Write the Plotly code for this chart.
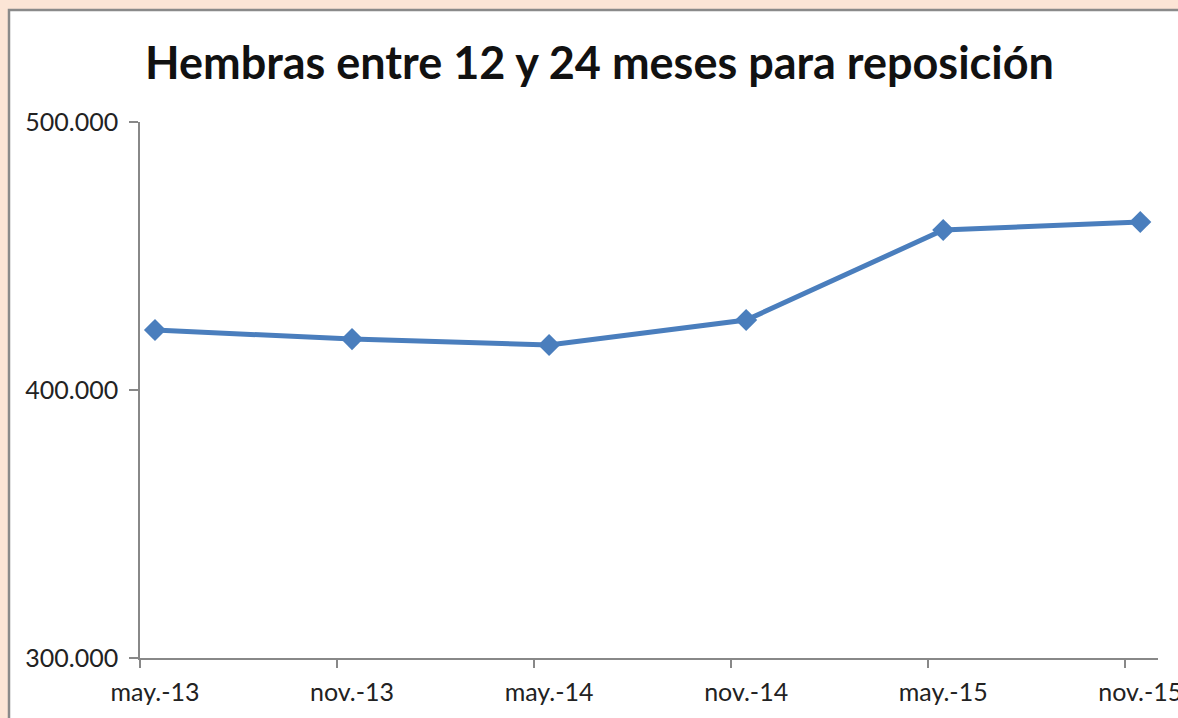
import plotly.graph_objects as go

categories = ["may.-13", "nov.-13", "may.-14", "nov.-14", "may.-15", "nov.-15"]
values = [422400, 419000, 416800, 426100, 459700, 462700]
y_ticks = [300000, 400000, 500000]
y_tick_labels = ["300.000", "400.000", "500.000"]
title_text = "Hembras entre 12 y 24 meses para reposición"

W, H = 1178, 718
L, R, T, B = 140, 20, 122, 60
pw, ph = W - L - R, H - T - B

idx = list(range(len(categories)))
offset = 0.076  # tick marks sit slightly left of the points
x_range = [-offset, 5.09]

fig = go.Figure()
fig.add_trace(go.Scatter(
    x=idx, y=values, mode="lines+markers",
    line=dict(color="#4A7EBD", width=5),
    marker=dict(symbol="diamond", size=17, color="#4A7EBD"),
    showlegend=False, hoverinfo="skip",
))
# invisible trace for the label axis
fig.add_trace(go.Scatter(x=idx, y=values, xaxis="x2", mode="lines",
                         line=dict(width=0), showlegend=False, hoverinfo="skip"))

fig.update_layout(
    width=W, height=H, autosize=False,
    margin=dict(l=L, r=R, t=T, b=B, autoexpand=False),
    paper_bgcolor="#FCE5D6",
    plot_bgcolor="rgba(0,0,0,0)",
    font=dict(family="Lato, Carlito, Calibri, sans-serif", color="#222222"),
    xaxis=dict(
        range=x_range, tickmode="array",
        tickvals=[i - offset for i in idx], ticktext=["" for _ in idx],
        ticks="outside", ticklen=8, tickcolor="#888888", tickwidth=1.5,
        showline=True, linecolor="#888888", linewidth=1.5,
        showgrid=False, zeroline=False, automargin=False,
    ),
    xaxis2=dict(
        range=x_range, overlaying="x", side="bottom",
        tickmode="array", tickvals=idx, ticktext=categories,
        ticks="outside", ticklen=12, tickcolor="rgba(0,0,0,0)",
        showline=False, showgrid=False, zeroline=False,
        ticklabeloverflow="allow", automargin=False,
        tickfont=dict(size=25, color="#222222"),
    ),
    yaxis=dict(
        range=[300000, 500000], tickmode="array",
        tickvals=y_ticks, ticktext=y_tick_labels,
        ticks="outside", ticklen=9, tickcolor="#888888", tickwidth=1.5,
        showline=True, linecolor="#888888", linewidth=1.5,
        showgrid=False, zeroline=False, ticklabelstandoff=6, automargin=False,
        tickfont=dict(size=25, color="#222222"),
    ),
    shapes=[dict(
        type="rect", xref="paper", yref="paper", layer="below",
        x0=(9 - L) / pw, x1=1.2, y0=-0.3, y1=(H - B - 10) / ph,
        fillcolor="white", line=dict(color="#8A8A8A", width=2.5),
    )],
    annotations=[dict(
        text="<b>" + title_text + "</b>", xref="paper", yref="paper",
        x=(599 - L) / pw, y=(H - B - 62) / ph, xanchor="center", yanchor="middle",
        showarrow=False, font=dict(size=45, color="#111111"),
    )],
)

fig.write_html(
    "out.html",
    config={"responsive": False, "displayModeBar": False},
    post_script="document.body.style.margin='0';document.body.style.overflow='hidden';",
)
